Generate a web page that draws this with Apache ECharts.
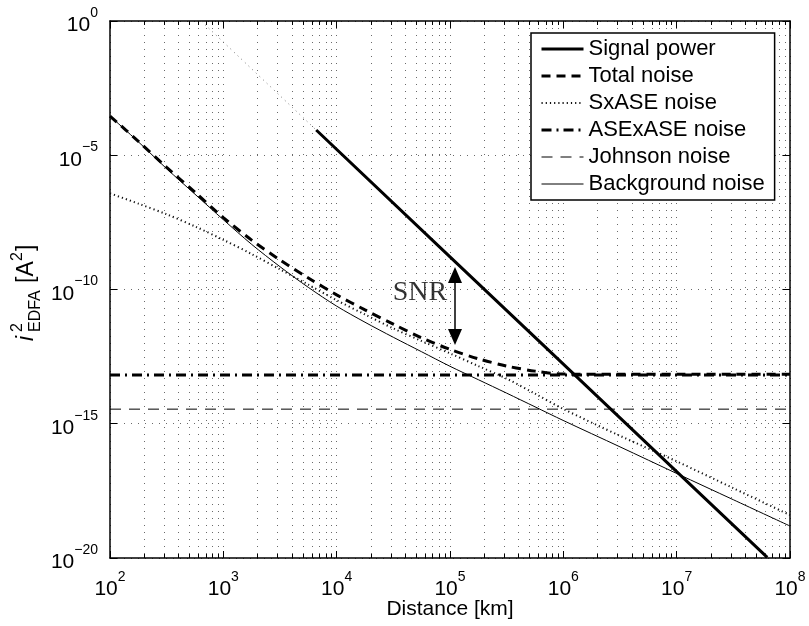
<!DOCTYPE html>
<html>
<head>
<meta charset="utf-8">
<script src="https://cdn.jsdelivr.net/npm/echarts@6/dist/echarts.min.js"></script>
<style>
  html, body { margin: 0; padding: 0; background: #ffffff; }
  #chart { width: 809px; height: 626px; }
</style>
</head>
<body>
<div id="chart"></div>
<script>
// Link distance [km] at which the noise terms are sampled
const distanceKm = [100, 178, 316, 562, 1000, 1778, 3162, 5623, 10000, 17783, 31623, 56234,
  1e5, 177828, 316228, 562341, 1e6, 3.162e6, 1e7, 3.162e7, 1e8];

// Noise powers i^2 [A^2] at those distances
const totalNoise = [2.88e-4, 3.31e-5, 3.55e-6, 4.17e-7, 4.79e-8, 6.92e-9, 1.26e-9, 2.69e-10,
  6.31e-11, 1.74e-11, 5.13e-12, 1.58e-12, 5.89e-13, 2.63e-13, 1.41e-13, 9.12e-14,
  7.08e-14, 6.92e-14, 6.92e-14, 6.92e-14, 6.92e-14];
const sxaseNoise = [3.80e-7, 1.58e-7, 6.31e-8, 2.24e-8, 7.08e-9, 2.09e-9, 5.62e-10, 1.51e-10,
  3.98e-11, 1.17e-11, 3.55e-12, 1.20e-12, 4.17e-13, 1.41e-13, 4.79e-14, 1.32e-14,
  3.55e-15, 3.55e-16, 3.98e-17, 3.98e-18, 3.98e-19];
const backgroundNoise = [2.88e-4, 3.16e-5, 3.16e-6, 3.55e-7, 3.98e-8, 4.79e-9, 7.08e-10, 1.20e-10,
  2.40e-11, 6.03e-12, 1.66e-12, 4.79e-13, 1.38e-13, 4.37e-14, 1.38e-14, 4.27e-15,
  1.32e-15, 1.38e-16, 1.41e-17, 1.48e-18, 1.55e-19];

// Flat noise floors
const flatDistanceKm = [100, 1e8];
const asexaseNoise = [6.6e-14, 6.6e-14];
const johnsonNoise = [3.5e-15, 3.5e-15];

// Received signal power
const signalDistanceKm = [6600, 1e5, 1e6, 1e7, 6.3e7];
const signalPower = [8.7e-5, 1.65e-9, 1.65e-13, 1.65e-17, 1.05e-20];
// Signal power continued towards short distances (dotted)
const signalShortDistanceKm = [640, 6600];
const signalShortPower = [0.98, 8.7e-5];

// SNR annotation
const snrArrowDistanceKm = 1.107e5;
const snrArrowPower = [3.47e-10, 1.70e-12];
const snrLabelAt = [5.43e4, 7.4e-11];

// Axis decades
const xExponents = [2, 3, 4, 5, 6, 7, 8];
const minorMantissas = [2, 3, 4, 5, 6, 7, 8, 9];

const pairs = (xs, ys) => xs.map((x, i) => [x, ys[i]]);

// Minor log positions along the distance axis
const xMinor = [];
for (let e = xExponents[0]; e < xExponents[xExponents.length - 1]; e++) {
  minorMantissas.forEach(m => xMinor.push([m * Math.pow(10, e), 1e-10]));
}

const FONT = '"Liberation Sans", Arial, Helvetica, sans-serif';
const GRID_DOT = '#6a6a6a';

// Line styles shared by the curves and their legend samples
const STYLE = {
  signal: { color: '#000', width: 3, type: 'solid' },
  total: { color: '#000', width: 3, type: [9, 6] },
  sxase: { color: '#111', width: 2, type: [1.2, 3] },
  asexase: { color: '#000', width: 3, type: [10, 5, 2, 5] },
  johnson: { color: '#000', width: 1, type: [11, 8] },
  background: { color: '#000', width: 1, type: 'solid' }
};

const supLabel = (exp) => '{b|10}{s|' + (exp < 0 ? '\u2212' + Math.abs(exp) : exp) + '}';
const labelRich = {
  b: { fontSize: 21, lineHeight: 30, verticalAlign: 'bottom', fontFamily: FONT, color: '#000' },
  s: { fontSize: 14, lineHeight: 30, verticalAlign: 'top', fontFamily: FONT, color: '#000' }
};

const chart = echarts.init(document.getElementById('chart'), null, { renderer: 'canvas' });

const axisCommon = {
  axisLine: { show: true, lineStyle: { color: '#000', width: 1.5 } },
  axisTick: { show: true, inside: true, length: 7, lineStyle: { color: '#000', width: 1 } },
  minorTick: { show: false },
  minorSplitLine: { show: false }
};

const legendEntry = (name, s) => ({ name, lineStyle: { color: s.color, width: s.width, type: s.type } });

const option = {
  animation: false,
  backgroundColor: '#ffffff',
  textStyle: { fontFamily: FONT },
  grid: { left: 110, right: 19, top: 21, bottom: 68, containLabel: false, outerBoundsMode: 'none' },
  xAxis: [
    Object.assign({
      type: 'log', logBase: 10, min: 1e2, max: 1e8, interval: 1,
      position: 'bottom',
      name: 'Distance [km]', nameLocation: 'middle', nameGap: 41, nameMoveOverlap: false,
      nameTextStyle: { fontSize: 21, color: '#000', fontFamily: FONT },
      axisLabel: {
        margin: 12,
        formatter: v => supLabel(Math.round(Math.log10(v))),
        rich: labelRich
      },
      splitLine: { show: true, lineStyle: { color: GRID_DOT, width: 1, type: [1, 6] } }
    }, axisCommon),
    Object.assign({
      type: 'log', logBase: 10, min: 1e2, max: 1e8, interval: 1,
      position: 'top', axisLabel: { show: false }, splitLine: { show: false }
    }, axisCommon)
  ],
  yAxis: [
    Object.assign({
      type: 'log', logBase: 10, min: 1e-20, max: 1, interval: 5,
      position: 'left',
      axisLabel: {
        margin: 12,
        formatter: v => supLabel(Math.round(Math.log10(v))),
        rich: labelRich
      },
      splitLine: { show: true, lineStyle: { color: GRID_DOT, width: 1, type: [1, 6] } }
    }, axisCommon),
    Object.assign({
      type: 'log', logBase: 10, min: 1e-20, max: 1, interval: 5,
      position: 'right', axisLabel: { show: false }, splitLine: { show: false }
    }, axisCommon)
  ],
  legend: {
    orient: 'vertical', left: 531, top: 33,
    itemWidth: 42, itemHeight: 14, itemGap: 5,
    padding: [5, 10, 5, 9],
    backgroundColor: '#ffffff', borderColor: '#000', borderWidth: 1.5, borderRadius: 0,
    selectedMode: false,
    itemStyle: { opacity: 0 },
    textStyle: { fontSize: 22, lineHeight: 22, color: '#000', fontFamily: FONT },
    data: [
      legendEntry('Signal power', STYLE.signal),
      legendEntry('Total noise', STYLE.total),
      legendEntry('SxASE noise', STYLE.sxase),
      legendEntry('ASExASE noise', STYLE.asexase),
      legendEntry('Johnson noise', STYLE.johnson),
      legendEntry('Background noise', STYLE.background)
    ]
  },
  graphic: [{
    // y-axis title  i^2_EDFA [A^2], read bottom to top
    type: 'group', x: 38, y: 341, rotation: Math.PI / 2,
    children: [
      { type: 'text', x: 0, y: 0, style: { text: 'i', font: 'italic 23px ' + FONT, fill: '#000', verticalAlign: 'bottom', textVerticalAlign: 'bottom' } },
      { type: 'text', x: 9, y: -12, style: { text: '2', font: '16px ' + FONT, fill: '#000', verticalAlign: 'bottom', textVerticalAlign: 'bottom' } },
      { type: 'text', x: 9, y: 6, style: { text: 'EDFA', font: '16px ' + FONT, fill: '#000', verticalAlign: 'bottom', textVerticalAlign: 'bottom' } },
      { type: 'text', x: 58, y: 0, style: { text: '[A', font: '23px ' + FONT, fill: '#000', verticalAlign: 'bottom', textVerticalAlign: 'bottom' } },
      { type: 'text', x: 80, y: -12, style: { text: '2', font: '16px ' + FONT, fill: '#000', verticalAlign: 'bottom', textVerticalAlign: 'bottom' } },
      { type: 'text', x: 90, y: 0, style: { text: ']', font: '23px ' + FONT, fill: '#000', verticalAlign: 'bottom', textVerticalAlign: 'bottom' } }
    ]
  }],
  series: [
    {
      // minor grid lines and minor ticks of the distance axis
      type: 'custom', name: 'xMinorGrid', silent: true, z: 1,
      data: xMinor,
      renderItem: (params, api) => {
        const x = Math.round(api.coord([api.value(0), 1e-10])[0]) + 0.5;
        const cs = params.coordSys;
        const top = cs.y, bottom = cs.y + cs.height;
        return {
          type: 'group',
          children: [
            { type: 'line', shape: { x1: x, y1: top, x2: x, y2: bottom },
              style: { stroke: GRID_DOT, lineWidth: 1, lineDash: [1, 6] } },
            { type: 'line', shape: { x1: x, y1: bottom, x2: x, y2: bottom - 4 },
              style: { stroke: '#000', lineWidth: 1 } },
            { type: 'line', shape: { x1: x, y1: top, x2: x, y2: top + 4 },
              style: { stroke: '#000', lineWidth: 1 } }
          ]
        };
      }
    },
    {
      name: 'Signal power (short range)', type: 'line', data: pairs(signalShortDistanceKm, signalShortPower),
      symbol: 'none', silent: true, z: 2,
      lineStyle: { color: '#777', width: 1, type: [1, 4] }
    },
    {
      name: 'Johnson noise', type: 'line', data: pairs(flatDistanceKm, johnsonNoise),
      symbol: 'none', z: 3, lineStyle: STYLE.johnson, itemStyle: { color: '#000' }
    },
    {
      name: 'Background noise', type: 'line', data: pairs(distanceKm, backgroundNoise),
      symbol: 'none', smooth: 0.3, z: 3, lineStyle: STYLE.background, itemStyle: { color: '#000' }
    },
    {
      name: 'SxASE noise', type: 'line', data: pairs(distanceKm, sxaseNoise),
      symbol: 'none', smooth: 0.3, z: 4, lineStyle: STYLE.sxase, itemStyle: { color: '#111' }
    },
    {
      name: 'ASExASE noise', type: 'line', data: pairs(flatDistanceKm, asexaseNoise),
      symbol: 'none', z: 4, lineStyle: STYLE.asexase, itemStyle: { color: '#000' }
    },
    {
      name: 'Total noise', type: 'line', data: pairs(distanceKm, totalNoise),
      symbol: 'none', smooth: 0.3, z: 5, lineStyle: STYLE.total, itemStyle: { color: '#000' }
    },
    {
      name: 'Signal power', type: 'line', data: pairs(signalDistanceKm, signalPower),
      symbol: 'none', z: 6, lineStyle: STYLE.signal, itemStyle: { color: '#000' }
    },
    {
      name: 'SNR', type: 'scatter', data: [snrLabelAt], symbolSize: 0, silent: true, z: 7,
      label: {
        show: true, position: 'inside', formatter: 'SNR',
        fontFamily: '"Liberation Serif", "Times New Roman", serif', fontSize: 28, color: '#000'
      },
      markLine: {
        silent: true, symbol: ['triangle', 'triangle'], symbolSize: [14, 16],
        label: { show: false },
        lineStyle: { color: '#000', width: 1.5, type: 'solid' },
        data: [[
          { coord: [snrArrowDistanceKm, snrArrowPower[0]] },
          { coord: [snrArrowDistanceKm, snrArrowPower[1]] }
        ]]
      }
    }
  ]
};

chart.setOption(option);
</script>
</body>
</html>
